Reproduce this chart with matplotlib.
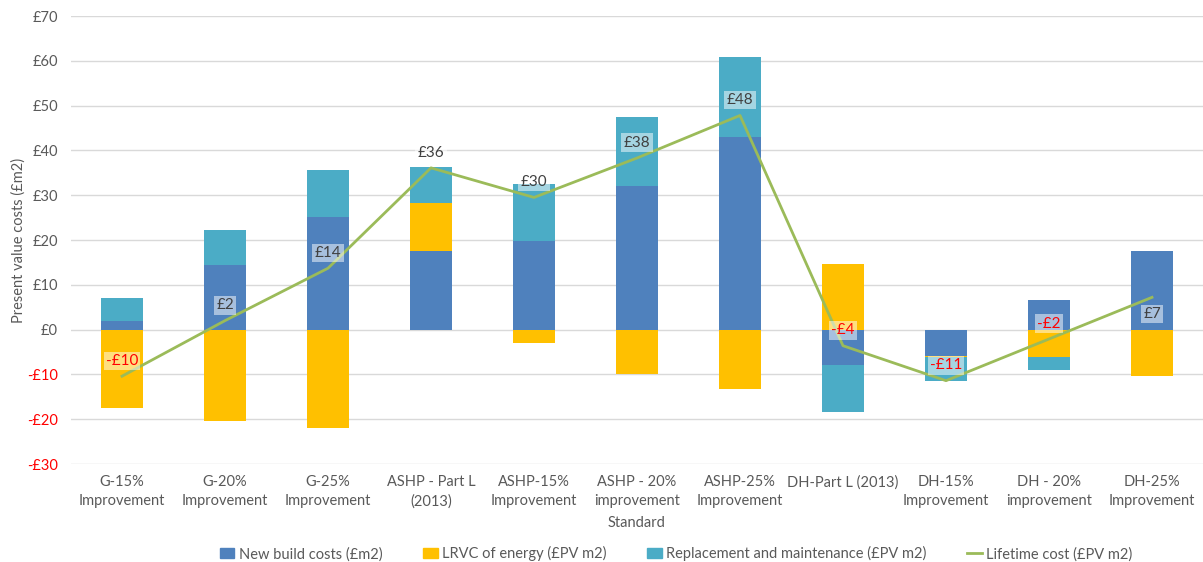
"""
Description: Stacked bar chart of present value costs per standard with lifetime cost line.

"""
import numpy as np
import matplotlib
matplotlib.use('Agg')
import matplotlib.pyplot as plt
from matplotlib.lines import Line2D
from matplotlib.patches import Patch

# Chart data
categories = ['G-15%\nImprovement', 'G-20%\nImprovement', 'G-25%\nImprovement',
              'ASHP - Part L\n(2013)', 'ASHP-15%\nImprovement', 'ASHP - 20%\nimprovement',
              'ASHP-25%\nImprovement', 'DH-Part L (2013)', 'DH-15%\nImprovement',
              'DH - 20%\nimprovement', 'DH-25%\nImprovement']
new_build = [2.0, 14.5, 25.2, 17.5, 19.7, 32.1, 42.9, -8.0, -5.8, 6.7, 17.5]
lrvc_energy = [-17.6, -20.5, -21.9, 10.8, -3.0, -9.9, -13.2, 14.7, -0.3, -6.2, -10.4]
replacement = [5.1, 7.7, 10.4, 7.9, 12.8, 15.4, 18.0, -10.3, -5.3, -2.8, 0.0]
lifetime = [-10.4, 2.0, 13.7, 36.1, 29.5, 38.3, 47.8, -3.6, -11.4, -2.1, 7.2]
series_names = ['New build costs (£m2)', 'LRVC of energy (£PV m2)',
                'Replacement and maintenance (£PV m2)', 'Lifetime cost (£PV m2)']

COLORS = ['#4F81BD', '#FFC000', '#4BACC6']
LINE_COLOR = '#9BBB59'
TEXT_COLOR = '#595959'


def money(v):
    """Format a value like Excel's £ format with a leading minus."""
    v = int(round(v))
    return f"-£{abs(v)}" if v < 0 else f"£{v}"


def draw_chart():
    plt.rcParams['font.family'] = ['Lato', 'DejaVu Sans']
    fig = plt.figure(figsize=(12.03, 5.62), dpi=100)
    ax = fig.add_axes([70.5 / 1203, 98 / 562, 1133 / 1203, 448 / 562])

    x = np.arange(len(categories))
    pos_bottom = np.zeros(len(categories))
    neg_bottom = np.zeros(len(categories))

    # Stack positives upward and negatives downward, like Excel does
    for values, color in zip([new_build, lrvc_energy, replacement], COLORS):
        values = np.array(values)
        bottom = np.where(values >= 0, pos_bottom, neg_bottom)
        ax.bar(x, values, width=0.41, bottom=bottom, color=color, zorder=2)
        pos_bottom += np.where(values >= 0, values, 0)
        neg_bottom += np.where(values < 0, values, 0)

    ax.plot(x, lifetime, color=LINE_COLOR, linewidth=2, zorder=3)

    # Data labels for the lifetime line
    for xi, v in zip(x, lifetime):
        dy = -12 if xi == len(categories) - 1 else 11
        ax.annotate(money(v), (xi, v), xytext=(0, dy), textcoords='offset points',
                    ha='center', va='center', fontsize=11,
                    color='#FF0000' if v < 0 else '#404040', zorder=4,
                    bbox=dict(boxstyle='square,pad=0.15', fc='white', ec='none', alpha=0.5))

    ax.set_xlim(-0.5, len(categories) - 0.5)
    ax.set_ylim(-30, 70)
    yticks = np.arange(-30, 71, 10)
    ax.set_yticks(yticks)
    ax.set_yticklabels([money(t) for t in yticks])
    for lbl, t in zip(ax.get_yticklabels(), yticks):
        lbl.set_color('#FF0000' if t < 0 else TEXT_COLOR)
    ax.set_xticks(x)
    ax.set_xticklabels(categories, color=TEXT_COLOR, fontsize=10.5, linespacing=1.45)
    ax.tick_params(axis='y', length=0, labelsize=10.5, pad=9)
    ax.tick_params(axis='x', length=0, pad=8)

    ax.grid(axis='y', color='#D9D9D9', linewidth=1, zorder=0)
    ax.set_axisbelow(True)
    for spine in ax.spines.values():
        spine.set_visible(False)

    ax.set_xlabel('Standard', color=TEXT_COLOR, fontsize=10.5, labelpad=5)
    ax.set_ylabel('Present value costs (£m2)', color=TEXT_COLOR, fontsize=10.5, labelpad=1)

    handles = [Patch(color=c) for c in COLORS] + [Line2D([], [], color=LINE_COLOR, linewidth=2)]
    fig.legend(handles, series_names, loc='lower center', bbox_to_anchor=(0.562, -0.022),
               ncol=4, frameon=False, fontsize=10.5, columnspacing=2.8, handlelength=1.0,
               handletextpad=0.3, labelcolor=TEXT_COLOR)

    fig.savefig('out.png', dpi=100)


def main():
    draw_chart()


main()
